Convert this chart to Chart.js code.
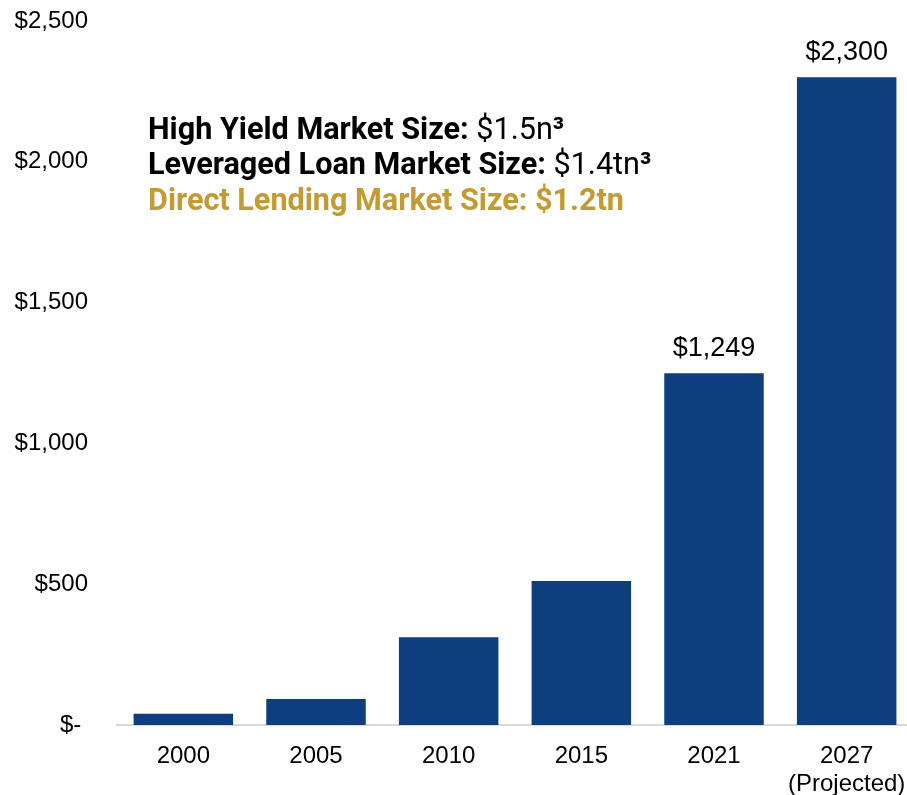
<!DOCTYPE html>
<html>
<head>
<meta charset="utf-8">
<script src="https://cdn.jsdelivr.net/npm/chart.js@4/dist/chart.umd.min.js"></script>
<style>
  html, body { margin: 0; padding: 0; background: #fff; overflow: hidden; }
  #wrap { width: 920px; height: 795px; }
</style>
</head>
<body>
<div id="wrap"><canvas id="c" width="920" height="795"></canvas></div>
<script>
// Direct lending market size, $bn
const years = ['2000', '2005', '2010', '2015', '2021', ['2027', '(Projected)']];
const marketSize = [40, 92, 312, 511, 1249, 2300];
const labeledBars = [4, 5];
const yTicks = [0, 500, 1000, 1500, 2000, 2500];

const BAR = '#0E3E7D';
const GOLD = '#C49B32';

const fmtMoney = v => v === 0 ? '$- ' : '$' + v.toLocaleString('en-US');

// Value captions above selected bars
const valueLabels = {
  id: 'valueLabels',
  afterDatasetsDraw(chart) {
    const ctx = chart.ctx;
    const meta = chart.getDatasetMeta(0);
    ctx.save();
    ctx.font = '27px "Liberation Sans", Arial, sans-serif';
    ctx.fillStyle = '#000';
    ctx.textAlign = 'center';
    ctx.textBaseline = 'alphabetic';
    labeledBars.forEach(i => {
      const bar = meta.data[i];
      ctx.fillText(fmtMoney(marketSize[i]), bar.x, bar.y - 17);
    });
    ctx.restore();
  }
};

// Market comparison notes in the upper left
const notes = {
  id: 'notes',
  afterDraw(chart) {
    const ctx = chart.ctx;
    const bold = 'bold 30.6px Roboto, "Noto Sans", sans-serif';
    const reg = '30.6px Roboto, "Noto Sans", sans-serif';
    const lines = [
      { y: 139, parts: [[bold, '#000', 'High Yield Market Size: '], [reg, '#000', '$1.5n'], [bold, '#000', '³']] },
      { y: 174, parts: [[bold, '#000', 'Leveraged Loan Market Size: '], [reg, '#000', '$1.4tn'], [bold, '#000', '³']] },
      { y: 210, parts: [[bold, GOLD, 'Direct Lending Market Size: $1.2tn']] }
    ];
    ctx.save();
    ctx.textBaseline = 'alphabetic';
    ctx.textAlign = 'left';
    lines.forEach(line => {
      let x = 148;
      line.parts.forEach(([font, color, text]) => {
        ctx.font = font;
        ctx.fillStyle = color;
        ctx.fillText(text, x, line.y);
        x += ctx.measureText(text).width;
      });
    });
    ctx.restore();
  }
};

new Chart(document.getElementById('c'), {
  type: 'bar',
  data: {
    labels: years,
    datasets: [{
      data: marketSize,
      backgroundColor: BAR,
      borderWidth: 0,
      barPercentage: 0.75,
      categoryPercentage: 1.0
    }]
  },
  options: {
    responsive: false,
    animation: false,
    layout: { padding: { top: 21, right: 7, left: 0, bottom: 0 } },
    plugins: { legend: { display: false }, tooltip: { enabled: false } },
    scales: {
      x: {
        grid: { display: false, drawTicks: false },
        border: { display: true, color: '#D9D9D9', width: 2 },
        ticks: {
          color: '#000',
          padding: 17,
          maxRotation: 0,
          autoSkip: false,
          font: { family: '"Liberation Sans", Arial, sans-serif', size: 24, lineHeight: 1.17 }
        },
        afterFit: s => { s.height = 70; s.paddingLeft = 0; s.paddingRight = 0; }
      },
      y: {
        min: 0,
        max: 2500,
        grid: { display: false, drawTicks: false },
        border: { display: false },
        afterBuildTicks: s => { s.ticks = yTicks.map(v => ({ value: v })); },
        ticks: {
          color: '#000',
          padding: 29,
          callback: v => fmtMoney(v),
          font: { family: '"Liberation Sans", Arial, sans-serif', size: 24 }
        },
        afterFit: s => { s.width = 117; s.paddingTop = 12; s.paddingBottom = 12; }
      }
    }
  },
  plugins: [valueLabels, notes]
});
</script>
</body>
</html>
